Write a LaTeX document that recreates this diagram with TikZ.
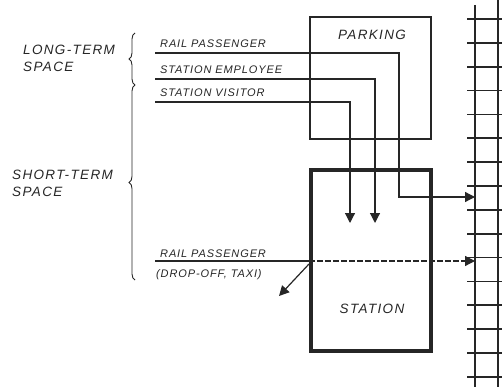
\documentclass[tikz,border=0pt]{standalone}
\usepackage{fontspec}
\newfontfamily\letterfont[LetterSpace=10]{Liberation Sans}
\newfontfamily\flowfont[LetterSpace=8]{Liberation Sans}
\usetikzlibrary{arrows.meta,decorations.pathreplacing}

\begin{document}
\begin{tikzpicture}[x=1pt,y=-1pt,
  ink/.style={draw=black!85},
  flowlabel/.style={anchor=base west, inner sep=0pt, text=black!85, font=\flowfont\itshape\fontsize{11}{13}\selectfont},
  biglabel/.style={inner sep=0pt, text=black!85, align=left, font=\letterfont\itshape\fontsize{13.5}{17}\selectfont},
  flow/.style={ink, line width=1.2pt},
  flowarrow/.style={flow, -{Triangle[length=10pt,width=10pt]}},
  spacebrace/.style={ink, line width=0.9pt, decorate, decoration={brace, amplitude=6pt}},
  rail/.style={ink, line width=1.7pt}]
  \useasboundingbox (0,0) rectangle (502,387);

  % Parking and station
  \node[ink, line width=1.5pt, minimum width=121pt, minimum height=122pt, inner sep=0pt] (parking) at (370.5,78) {};
  \node[biglabel] (parkinglbl) at (372,35) {PARKING};
  \node[ink, line width=4pt, minimum width=120pt, minimum height=181pt, inner sep=0pt] (station) at (371,260.5) {};
  \node[biglabel] (stationlbl) at (372,309) {STATION};

  % Track
  \draw[rail] (475,5) -- (475,387);
  \draw[rail] (498,0) -- (498,387);
  \foreach \i in {0,...,15}
    \draw[rail] (467,{19+23.85*\i}) -- (502,{19+23.85*\i});
  \coordinate (railA) at (475,197);
  \coordinate (railB) at (475,261);

  % Space braces
  \node[biglabel, anchor=north west] (longterm) at (23,45) {LONG-TERM\\SPACE};
  \node[biglabel, anchor=north west] (shortterm) at (12,170) {SHORT-TERM\\SPACE};
  \draw[spacebrace] (135,85) -- (135,33);
  \draw[spacebrace] (135,280) -- (135,85);

  % Flows through parking
  \node[flowlabel] (rplbl) at (160,47.5) {RAIL PASSENGER};
  \node[flowlabel] (selbl) at (160,74) {STATION EMPLOYEE};
  \node[flowlabel] (svlbl) at (160,97) {STATION VISITOR};
  \coordinate (rp) at (155,53);
  \coordinate (se) at (155,79);
  \coordinate (sv) at (155,102);
  \coordinate (sedrop) at (375,223);
  \coordinate (svdrop) at (350,223);
  \draw[flowarrow] (rp) -| (399,197) -- (railA);
  \draw[flowarrow] (se) -| (sedrop);
  \draw[flowarrow] (sv) -| (svdrop);

  % Drop-off flow
  \node[flowlabel] (rpblbl) at (160,257) {RAIL PASSENGER};
  \node[flowlabel] (dropofflbl) at (156,277) {(DROP-OFF, TAXI)};
  \coordinate (rpb) at (155,261);
  \coordinate (dropoff) at (309,264);
  \coordinate (taxi) at (279,296);
  \draw[flow] (rpb) -- (station.west |- rpb);
  \draw[flow, dash pattern=on 6pt off 2pt, -{Triangle[length=10pt,width=10pt]}] (station.west |- rpb) -- (railB);
  \draw[flowarrow] (dropoff) -- (taxi);
\end{tikzpicture}
\end{document}
